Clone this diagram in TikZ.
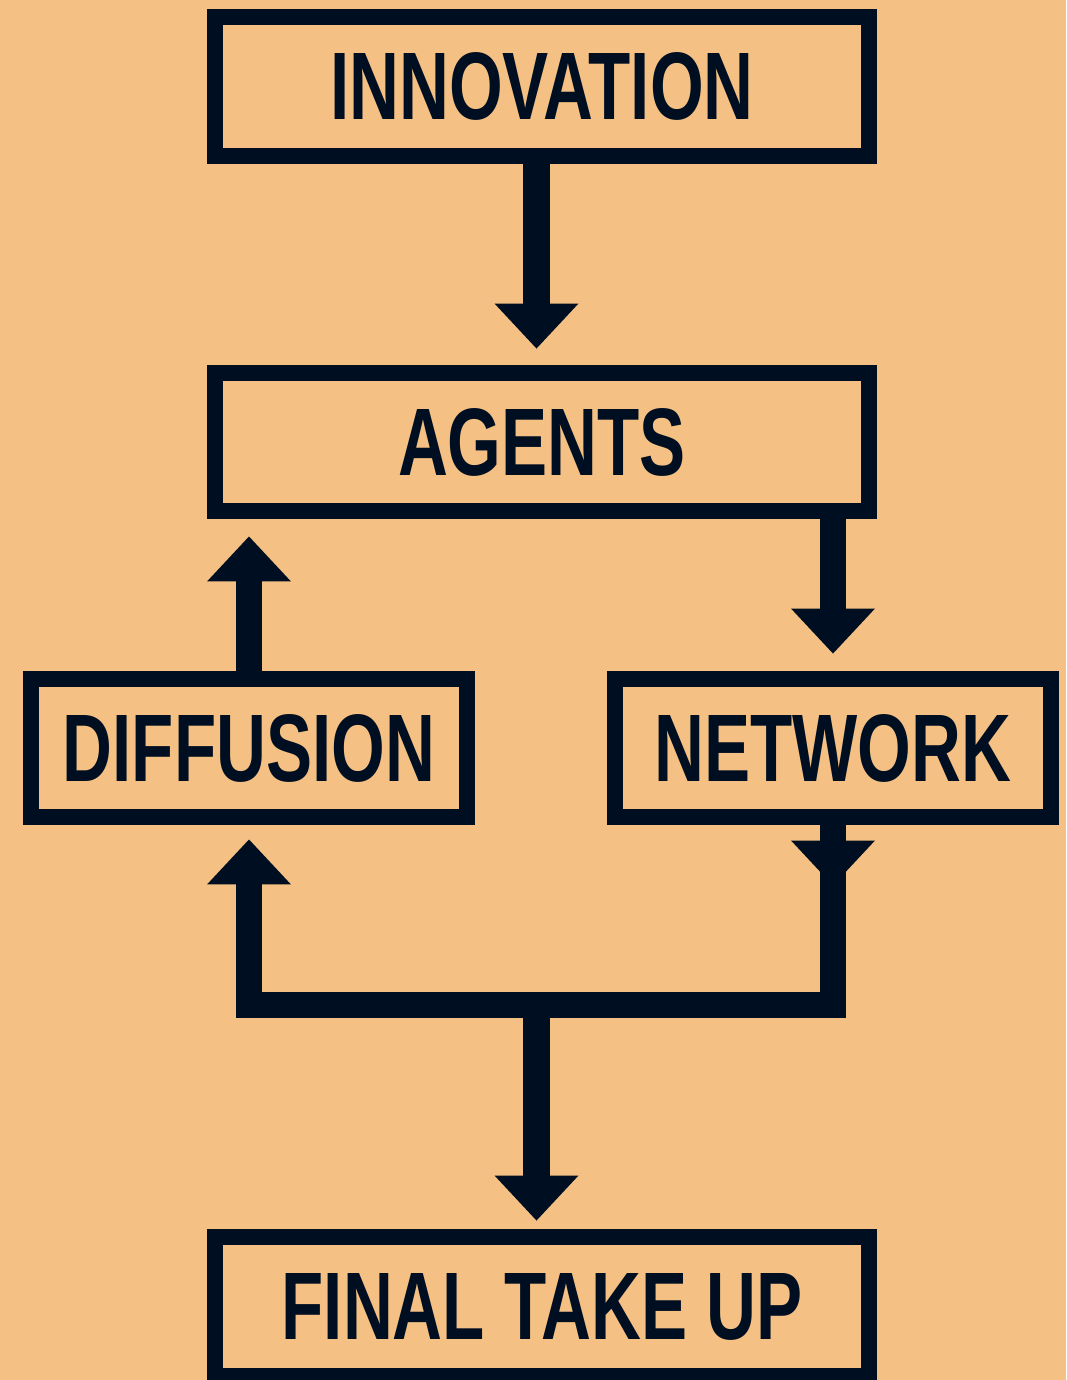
\documentclass[tikz,border=0pt]{standalone}
\usepackage{xcolor}
\usepackage{fontspec}
\usepackage{tikz}
\usetikzlibrary{calc}
\usetikzlibrary{arrows, arrows.meta}

\newfontfamily\boxfont[FakeStretch=0.72]{Liberation Sans Bold}
\definecolor{ink}{HTML}{000E22}
\definecolor{paper}{HTML}{F4C083}

\begin{document}
\begin{tikzpicture}[x=0.02cm, y=-0.02cm,
	stage/.style={draw=ink, line width=0.32cm, minimum width=13.08cm, minimum height=2.78cm,
		inner sep=0pt, text=ink, font=\boxfont\fontsize{54.6}{60}\selectfont},
	side/.style={stage, minimum width=8.72cm},
	pipe/.style={draw=ink, line width=0.53cm},
	flow/.style={pipe, -{Triangle[length=0.9cm, width=1.68cm, line width=0pt]}}]

\fill [paper] (0,0) rectangle (1066,1380);
\useasboundingbox (0,0) rectangle (1066,1380);

\node [stage] (innovation) at (542,86.5) {INNOVATION};
\node [stage] (agents) at (542,442) {AGENTS};
\node [side] (diffusion) at (249,748) {DIFFUSION};
\node [side] (network) at (833,748) {NETWORK};
\node [stage] (takeup) at (542,1306.5) {FINAL TAKE UP};

\coordinate (spine) at (536.5,1005);

\draw [flow, shorten >=0.32cm]
	(innovation.south -| spine) -- (agents.north -| spine);
\draw [flow, shorten >=0.34cm]
	(agents.south -| network.north) -- (network.north);
\draw [flow, shorten >=0.34cm]
	(diffusion.north) -- (diffusion.north |- agents.south);

\draw [flow]
	(network.south) -- ++(0,60);
\draw [flow, shorten >=0.28cm]
	(network.south) |- (diffusion.south |- spine) -- (diffusion.south);
\draw [flow, shorten >=0.17cm]
	(spine) -- (takeup.north -| spine);

\end{tikzpicture}
\end{document}
